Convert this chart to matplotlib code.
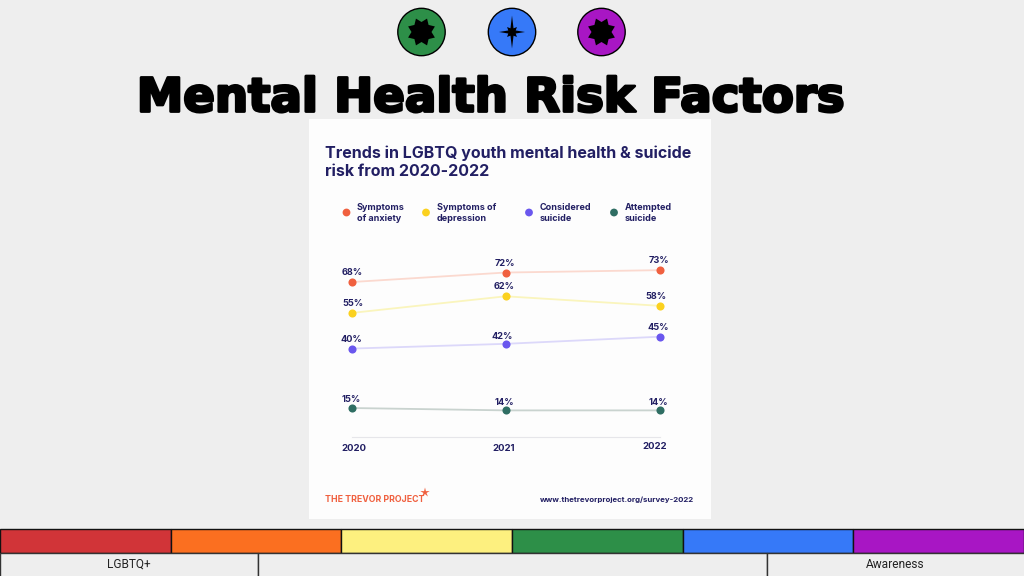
import matplotlib
matplotlib.use("Agg")
import matplotlib.pyplot as plt
import matplotlib.patheffects as pe
from matplotlib.patches import Circle, Polygon, Rectangle
import numpy as np

YEARS = [2020, 2021, 2022]
YEAR_LABELS = ["2020", "2021", "2022"]
ANXIETY = [68, 72, 73]
DEPRESSION = [55, 62, 58]
CONSIDERED = [40, 42, 45]
ATTEMPTED = [15, 14, 14]

SERIES_NAMES = ["Symptoms\nof anxiety", "Symptoms of\ndepression", "Considered\nsuicide", "Attempted\nsuicide"]
SERIES_COLORS = ["#f0603f", "#fbd11f", "#6a57ee", "#2f6e63"]
LINE_COLORS = ["#fbd9cf", "#faf5bd", "#dcd8fa", "#c9d3cf"]
RAINBOW = ["#d13438", "#fb6f20", "#fdf07f", "#2d8f48", "#3679f8", "#a816c4"]

BG = "#eeeeee"
NAVY = "#221f63"
W, H = 1024, 576
plt.rcParams["font.family"] = ["Inter", "DejaVu Sans"]

fig = plt.figure(figsize=(W / 100, H / 100), dpi=100, facecolor=BG)

# slide furniture, in pixels
bg = fig.add_axes([0, 0, 1, 1])
bg.set_xlim(0, W)
bg.set_ylim(H, 0)
bg.axis("off")


def star(cx, cy, radii, n, turn=0.0):
    ang = np.arange(2 * n) * np.pi / n - np.pi / 2 + turn
    r = np.resize(radii, 2 * n)
    return np.column_stack([cx + r * np.cos(ang), cy + r * np.sin(ang)])


for cx, col, radii, n, turn in [
    (421.5, RAINBOW[3], [14.5, 10], 8, np.pi / 8),
    (512, RAINBOW[4], [16.5, 4, 7, 4, 13, 4, 7, 4], 8, 0.0),
    (601.5, RAINBOW[5], [14.5, 10], 8, np.pi / 8),
]:
    bg.add_patch(Circle((cx, 32), 23.7, fc=col, ec="black", lw=1))
    bg.add_patch(Polygon(star(cx, 32, radii, n, turn), fc="black", ec="none"))

bg.text(490, 99, "Mental Health Risk Factors", ha="center", va="center", fontsize=33.6,
        family="DejaVu Sans", weight="bold", color="black",
        path_effects=[pe.withStroke(linewidth=2.0, foreground="black")])

bg.add_patch(Rectangle((309, 119), 402, 400, fc="#fdfdfd", ec="none"))

seg = W / 6
for i, col in enumerate(RAINBOW):
    bg.add_patch(Rectangle((i * seg, 529), seg, 23.5, fc=col, ec="#111111", lw=1))
bg.add_patch(Rectangle((0, 553), 257.5, 24, fc=BG, ec="#333333", lw=1))
bg.add_patch(Rectangle((257.5, 553), 509, 24, fc=BG, ec="#333333", lw=1))
bg.add_patch(Rectangle((766.5, 553), 258, 24, fc=BG, ec="#333333", lw=1))
bg.text(129, 564.5, "LGBTQ+", ha="center", va="center", fontsize=8.6, color="#222222", family="Roboto")
bg.text(895, 564.5, "Awareness", ha="center", va="center", fontsize=8.6, color="#222222", family="Roboto")

# card text
bg.text(325, 162, "Trends in LGBTQ youth mental health & suicide\nrisk from 2020-2022", ha="left",
        va="center", fontsize=11.5, weight="bold", color=NAVY, linespacing=1.25)
bg.text(540, 500, "www.thetrevorproject.org/survey-2022", ha="left", va="center", fontsize=5.65,
        weight="bold", color=NAVY)
bg.text(325, 499, "THE TREVOR PROJECT", ha="left", va="center", fontsize=6.3, weight="bold",
        color=SERIES_COLORS[0])
bg.add_patch(Polygon(star(425, 492.5, [5, 1.6], 5), fc=SERIES_COLORS[0], ec="none"))

for x, tx, name, col in zip([346.5, 426, 529, 614], [357, 437, 540, 625], SERIES_NAMES, SERIES_COLORS):
    bg.add_patch(Circle((x, 212.5), 3.9, fc=col, ec="none"))
    bg.text(tx, 213, name, ha="left", va="center", fontsize=6.5, weight="bold", color=NAVY,
            linespacing=1.2)

# chart, axes limits set so the values land on the card
ax = fig.add_axes([309 / W, 1 - 519 / H, 402 / W, 400 / H])
ax.patch.set_alpha(0)
ax.set_xlim(2019.724, 2022.334)
ax.set_ylim(-31.7, 136.6)
for s in ax.spines.values():
    s.set_visible(False)
ax.set_xticks([])
ax.set_yticks([])

label_offsets = [
    [(1, 5), (-1, 5), (-1, 5)],
    [(1, 5), (-1, 5), (-4, 5)],
    [(0, 5), (-3, 3), (-1, 5)],
    [(0, 4), (-1, 3), (-1, 3)],
]
for vals, col, lc, offs in zip([ANXIETY, DEPRESSION, CONSIDERED, ATTEMPTED], SERIES_COLORS, LINE_COLORS, label_offsets):
    ax.plot(YEARS, vals, color=lc, lw=1.3, zorder=2)
    ax.scatter(YEARS, vals, s=34, color=col, zorder=3, linewidths=0)
    for x, v, o in zip(YEARS, vals, offs):
        ax.annotate(f"{v}%", (x, v), xytext=(o[0] * 0.72, o[1] * 0.72), textcoords="offset points",
                    ha="center", va="bottom", fontsize=6.6, weight="bold", color=NAVY)

ax.plot([2020, 2022], [2.6, 2.6], color="#e6e6ea", lw=0.8, zorder=1)
for x, lab, dx, yv in zip(YEARS, YEAR_LABELS, [0.018, -0.013, -0.03], [-0.2, -0.2, 0.6]):
    ax.text(x + dx, yv, lab, ha="center", va="top", fontsize=6.9, weight="bold", color=NAVY)

fig.savefig("out.png", dpi=100, facecolor=BG)
